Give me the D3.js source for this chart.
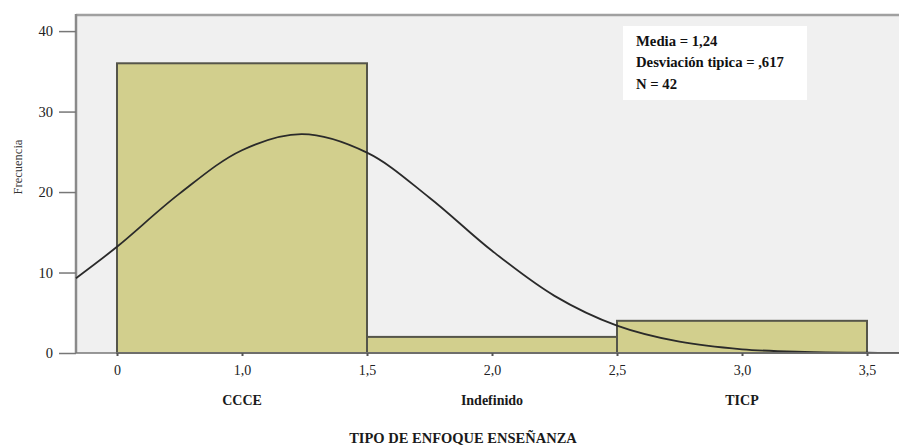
<!DOCTYPE html>
<html><head><meta charset="utf-8">
<script src="https://cdn.jsdelivr.net/npm/d3@7"></script>
<style>body{margin:0;background:#fff}svg{display:block}
svg text{font-family:"Liberation Serif","Times New Roman",Tinos,"DejaVu Serif",serif !important;}</style>
</head><body>
<svg id="c" width="899" height="446"></svg>
<script>
const categories = ["CCCE", "Indefinido", "TICP"];
const categoryValues = [1, 2, 3];
const frequencies = [36, 2, 4];
const xTickValues = [0.5, 1.0, 1.5, 2.0, 2.5, 3.0, 3.5];
const xTickLabels = ["0", "1,0", "1,5", "2,0", "2,5", "3,0", "3,5"];
const yTickValues = [0, 10, 20, 30, 40];
const curveX = [0.336, 0.5, 0.75, 1.0, 1.24, 1.5, 1.75, 2.0, 2.25, 2.5, 2.75, 3.0, 3.25, 3.5, 3.628];
const curveY = [9.3, 13.2, 19.8, 25.2, 27.2, 24.9, 19.3, 12.7, 7.1, 3.4, 1.4, 0.46, 0.13, 0.03, 0.01];
const statsLines = ["Media = 1,24", "Desviación tipica = ,617", "N = 42"];

const svg = d3.select("#c");
const L = 76, R = 899, T = 15, B = 353;
const x = d3.scaleLinear().domain([0.336, 3.628]).range([L, R]);
const y = d3.scaleLinear().domain([0, 42]).range([B, T]);

svg.append("rect").attr("x", L).attr("y", T).attr("width", R - L).attr("height", B - T).attr("fill", "#f0f0f0");

// bars
svg.selectAll("rect.bar").data(frequencies).enter().append("rect")
  .attr("class", "bar")
  .attr("x", (d, i) => x(categoryValues[i] - 0.5))
  .attr("width", (d, i) => x(categoryValues[i] + 0.5) - x(categoryValues[i] - 0.5))
  .attr("y", d => y(d))
  .attr("height", d => y(0) - y(d))
  .attr("fill", "#d2cf8d")
  .attr("stroke", "#55554a")
  .attr("stroke-width", 2);

// frame lines
svg.append("line").attr("x1", L).attr("x2", R).attr("y1", T).attr("y2", T).attr("stroke", "#a0a0a0").attr("stroke-width", 2.5);
svg.append("line").attr("x1", L).attr("x2", L).attr("y1", T - 1).attr("y2", B).attr("stroke", "#8a8a8a").attr("stroke-width", 2.5);

// normal curve
const pts = curveX.map((v, i) => [v, curveY[i]]);
svg.append("path").datum(pts)
  .attr("d", d3.line().x(d => x(d[0])).y(d => y(d[1])).curve(d3.curveCatmullRom))
  .attr("fill", "none").attr("stroke", "#2a2a2a").attr("stroke-width", 1.8);

// y axis
const yAxis = svg.append("g").attr("transform", `translate(${L},0)`)
  .call(d3.axisLeft(y).tickValues(yTickValues).tickSize(17).tickPadding(6).tickFormat(d3.format("d")));
yAxis.select(".domain").remove();
yAxis.selectAll(".tick line").attr("stroke", "#777").attr("stroke-width", 1.5);
yAxis.selectAll("text").attr("font-size", 14.5).attr("fill", "#222");

// x axis
const xAxis = svg.append("g").attr("transform", `translate(0,${B})`)
  .call(d3.axisBottom(x).tickValues(xTickValues).tickSize(3).tickPadding(9).tickFormat((d, i) => xTickLabels[i]));
xAxis.select(".domain").attr("stroke", "#777").attr("stroke-width", 1.5).attr("d", `M${L},0H${R}`);
xAxis.selectAll(".tick line").attr("stroke", "#555").attr("stroke-width", 2);
xAxis.selectAll("text").attr("font-size", 14).attr("fill", "#222");

// category labels
svg.selectAll("text.cat").data(categories).enter().append("text")
  .attr("x", (d, i) => x(categoryValues[i])).attr("y", 405)
  .attr("text-anchor", "middle").attr("font-weight", "bold")
  .attr("font-size", 14).attr("fill", "#1a1a1a").text(d => d);

// axis titles
svg.append("text").attr("x", 463).attr("y", 443).attr("text-anchor", "middle")
  .attr("font-weight", "bold").attr("font-size", 14.5).attr("fill", "#1a1a1a")
  .text("TIPO DE ENFOQUE ENSEÑANZA");
svg.append("text").attr("transform", "translate(22,167) rotate(-90)").attr("text-anchor", "middle")
  .attr("font-size", 12.5).attr("fill", "#333").text("Frecuencia");

// stats box
svg.append("rect").attr("x", 623).attr("y", 26).attr("width", 184).attr("height", 74).attr("fill", "#fff");
svg.selectAll("text.st").data(statsLines).enter().append("text")
  .attr("x", 636).attr("y", (d, i) => 45.5 + i * 21.5)
  .attr("font-weight", "bold").attr("font-size", 14.7).attr("fill", "#111")
  .text(d => d);
</script>
</body></html>
